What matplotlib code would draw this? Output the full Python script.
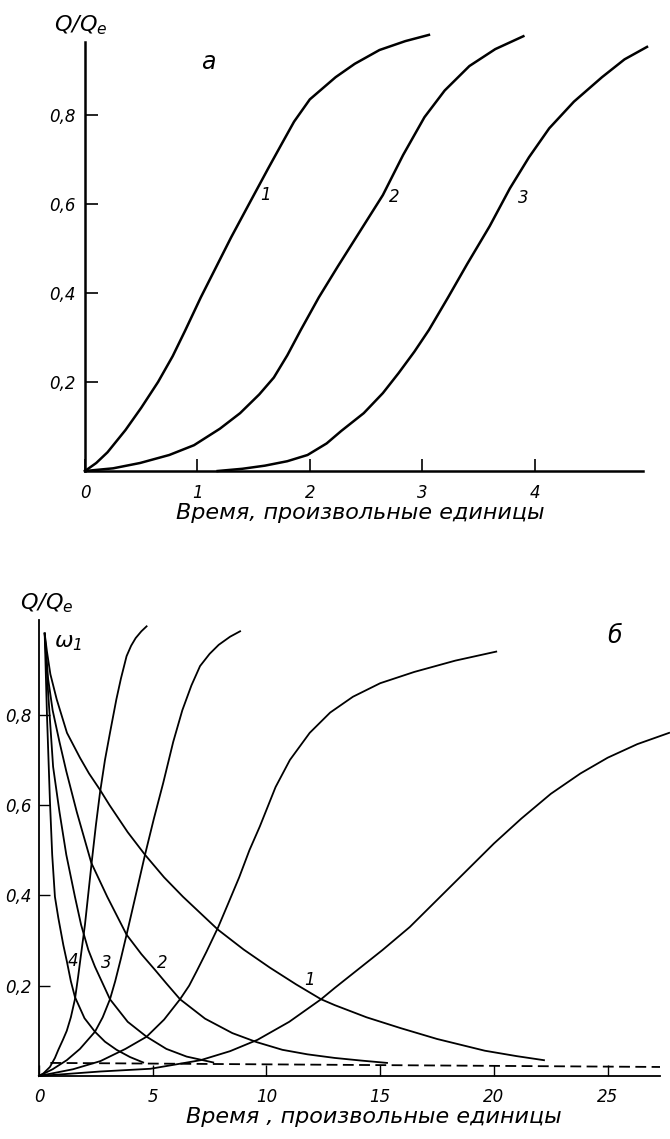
import matplotlib
matplotlib.use("Agg")
import matplotlib.pyplot as plt

plt.rcParams['font.family'] = ['DejaVu Sans']
plt.rcParams['font.style'] = 'italic'
plt.rcParams['mathtext.fontset'] = 'dejavusans'

# panel a: Q/Qe vs time, three curves
a1_t = [0, 0.1, 0.2, 0.36, 0.5, 0.65, 0.78, 0.89, 1.03, 1.15, 1.3, 1.47, 1.63, 1.75, 1.86, 2.0, 2.23, 2.4, 2.62, 2.85, 3.06]
a1_v = [0, 0.018, 0.042, 0.092, 0.142, 0.2, 0.258, 0.315, 0.39, 0.45, 0.525, 0.605, 0.68, 0.735, 0.785, 0.835, 0.885, 0.915, 0.946, 0.966, 0.98]
a2_t = [0, 0.25, 0.49, 0.75, 0.97, 1.2, 1.38, 1.55, 1.68, 1.8, 1.92, 2.08, 2.25, 2.45, 2.65, 2.83, 3.02, 3.2, 3.42, 3.65, 3.9]
a2_v = [0, 0.006, 0.018, 0.036, 0.058, 0.095, 0.13, 0.172, 0.21, 0.26, 0.317, 0.39, 0.46, 0.54, 0.62, 0.71, 0.795, 0.855, 0.91, 0.948, 0.977]
a3_t = [1.18, 1.4, 1.6, 1.8, 1.98, 2.15, 2.28, 2.48, 2.65, 2.79, 2.93, 3.06, 3.23, 3.4, 3.6, 3.78, 3.95, 4.13, 4.35, 4.6, 4.8, 5.0]
a3_v = [0, 0.005, 0.012, 0.022, 0.036, 0.062, 0.09, 0.13, 0.175, 0.22, 0.268, 0.317, 0.39, 0.465, 0.55, 0.635, 0.705, 0.77, 0.83, 0.885, 0.925, 0.953]
a_xticks = [0, 1, 2, 3, 4]
a_yticks = [0.2, 0.4, 0.6, 0.8]

# panel b: rising Q/Qe curves 1-4
r1_t = [0, 2.7, 4.9, 7.1, 8.4, 9.6, 11.0, 12.4, 13.0, 14.0, 15.1, 16.3, 17.5, 18.8, 20.0, 21.2, 22.5, 23.8, 25.0, 26.3, 27.7]
r1_v = [0, 0.01, 0.016, 0.035, 0.055, 0.08, 0.12, 0.17, 0.195, 0.235, 0.279, 0.33, 0.39, 0.455, 0.515, 0.57, 0.625, 0.67, 0.705, 0.735, 0.76]
r2_t = [0, 1.5, 2.7, 3.8, 4.73, 5.5, 6.2, 6.6, 6.93, 7.36, 7.88, 8.3, 8.8, 9.25, 9.71, 10.4, 11.03, 11.9, 12.8, 13.8, 15.0, 16.5, 18.3, 20.1]
r2_v = [0, 0.015, 0.033, 0.06, 0.087, 0.125, 0.17, 0.2, 0.232, 0.275, 0.33, 0.38, 0.44, 0.5, 0.553, 0.64, 0.7, 0.76, 0.805, 0.84, 0.87, 0.895, 0.92, 0.94]
r3_t = [0, 0.6, 1.22, 1.8, 2.46, 2.8, 3.12, 3.35, 3.6, 3.85, 4.25, 4.66, 5.05, 5.46, 5.9, 6.3, 6.7, 7.08, 7.5, 7.9, 8.4, 8.84]
r3_v = [0, 0.015, 0.035, 0.06, 0.098, 0.13, 0.17, 0.21, 0.26, 0.313, 0.4, 0.49, 0.57, 0.649, 0.74, 0.81, 0.865, 0.908, 0.935, 0.955, 0.973, 0.985]
r4_t = [0, 0.2, 0.48, 0.7, 0.85, 1.05, 1.22, 1.4, 1.58, 1.72, 1.85, 2.02, 2.17, 2.32, 2.5, 2.68, 2.9, 3.12, 3.4, 3.6, 3.85, 4.05, 4.25, 4.5, 4.73]
r4_v = [0, 0.006, 0.02, 0.04, 0.058, 0.08, 0.1, 0.13, 0.17, 0.22, 0.27, 0.335, 0.405, 0.475, 0.555, 0.627, 0.7, 0.76, 0.834, 0.88, 0.93, 0.953, 0.97, 0.985, 0.996]

# panel b: decaying omega_1 curves 1-4
d1_t = [0.25, 0.35, 0.5, 0.78, 1.23, 1.8, 2.2, 2.68, 3.1, 3.9, 4.66, 5.5, 6.33, 7.87, 9.0, 10.15, 11.3, 12.4, 13.0, 14.4, 15.9, 17.5, 19.6, 21.0, 22.2]
d1_v = [0.98, 0.94, 0.89, 0.834, 0.76, 0.705, 0.67, 0.634, 0.6, 0.54, 0.49, 0.44, 0.397, 0.324, 0.28, 0.24, 0.203, 0.17, 0.157, 0.13, 0.106, 0.082, 0.056, 0.044, 0.035]
d2_t = [0.25, 0.4, 0.6, 0.9, 1.2, 1.66, 2.3, 3.0, 3.85, 4.5, 5.1, 5.6, 6.2, 7.3, 8.5, 9.57, 10.7, 11.8, 13.0, 14.2, 15.3]
d2_v = [0.98, 0.88, 0.81, 0.74, 0.675, 0.585, 0.472, 0.397, 0.313, 0.27, 0.235, 0.205, 0.17, 0.127, 0.095, 0.075, 0.058, 0.048, 0.04, 0.034, 0.029]
d3_t = [0.25, 0.4, 0.62, 0.9, 1.2, 1.58, 1.85, 2.17, 2.46, 2.8, 3.12, 3.9, 4.73, 5.6, 6.49, 7.66]
d3_v = [0.98, 0.85, 0.685, 0.585, 0.49, 0.397, 0.335, 0.279, 0.242, 0.205, 0.17, 0.12, 0.087, 0.06, 0.043, 0.03]
d4_t = [0.25, 0.35, 0.48, 0.58, 0.7, 0.85, 1.07, 1.22, 1.4, 1.58, 2.0, 2.46, 2.9, 3.41, 4.0, 4.58]
d4_v = [0.98, 0.8, 0.61, 0.49, 0.397, 0.35, 0.29, 0.255, 0.21, 0.175, 0.128, 0.098, 0.076, 0.058, 0.042, 0.03]

dash_t = [0.5, 27.3]
dash_v = [0.029, 0.02]

b_xticks = [0, 5, 10, 15, 20, 25]
b_yticks = [0.2, 0.4, 0.6, 0.8]

fig = plt.figure(figsize=(6.7, 11.39), dpi=100)

def comma(v):
    return ("%g" % v).replace(".", ",")

# ---- panel a ----
ax = fig.add_axes([85/670, (1139-471)/1139, (647-85)/670, (471-42)/1139])
ax.set_xlim(0, 5.0)
ax.set_ylim(0, 0.964)
for t, v in [(a1_t, a1_v), (a2_t, a2_v), (a3_t, a3_v)]:
    ax.plot(t, v, color='black', lw=1.8, clip_on=False, solid_joinstyle='round')
for s in ['top', 'right']:
    ax.spines[s].set_visible(False)
for s in ['left', 'bottom']:
    ax.spines[s].set_linewidth(1.8)
ax.spines['bottom'].set_bounds(0, 4.96)
ax.set_xticks(a_xticks)
ax.set_xticklabels([str(x) for x in a_xticks])
ax.set_yticks(a_yticks)
ax.set_yticklabels([comma(y) for y in a_yticks])
ax.tick_params(axis='both', direction='in', length=9, width=1.2, labelsize=12)
ax.tick_params(axis='x', pad=9)
ax.tick_params(axis='y', pad=7)
ax.set_xlabel("Время, произвольные единицы", fontsize=16, labelpad=5)
ax.xaxis.set_label_coords(0.489, -0.075)
ax.text(1.61, 0.62, "1", fontsize=12, ha='center', va='center')
ax.text(2.75, 0.616, "2", fontsize=12, ha='center', va='center')
ax.text(3.9, 0.613, "3", fontsize=12, ha='center', va='center')
ax.text(1.1, 0.92, "а", fontsize=17, ha='center', va='center')
fig.text(81/670, 1 - 25/1139, r"$Q/Q_e$", fontsize=16, ha='center', va='center')

# ---- panel b ----
bx = fig.add_axes([39/670, (1139-1076)/1139, (660-39)/670, (1076-620)/1139])
bx.set_xlim(0, 27.3)
bx.set_ylim(0, 1.01)
for t, v in [(r1_t, r1_v), (r2_t, r2_v), (r3_t, r3_v), (r4_t, r4_v),
             (d1_t, d1_v), (d2_t, d2_v), (d3_t, d3_v), (d4_t, d4_v)]:
    bx.plot(t, v, color='black', lw=1.3, clip_on=False, solid_joinstyle='round')
bx.plot(dash_t, dash_v, color='black', lw=1.3, ls=(0, (6, 3)))
for s in ['top', 'right']:
    bx.spines[s].set_visible(False)
for s in ['left', 'bottom']:
    bx.spines[s].set_linewidth(1.3)
bx.set_xticks(b_xticks)
bx.set_xticklabels([str(x) for x in b_xticks])
bx.set_yticks(b_yticks)
bx.set_yticklabels([comma(y) for y in b_yticks])
bx.tick_params(axis='both', direction='in', length=8, width=1.0, labelsize=12)
bx.tick_params(axis='x', pad=9)
bx.tick_params(axis='y', pad=5)
bx.set_xlabel("Время , произвольные единицы", fontsize=16)
bx.xaxis.set_label_coords(0.539, -0.067)
bx.text(1.5, 0.255, "4", fontsize=12, ha='center', va='center')
bx.text(2.97, 0.25, "3", fontsize=12, ha='center', va='center')
bx.text(5.4, 0.25, "2", fontsize=12, ha='center', va='center')
bx.text(11.9, 0.213, "1", fontsize=12, ha='center', va='center')
bx.text(25.3, 0.975, "б", fontsize=17, ha='center', va='center')
fig.text(47/670, 1 - 603/1139, r"$Q/Q_e$", fontsize=16, ha='center', va='center')
fig.text(68/670, 1 - 643/1139, r"$\omega_1$", fontsize=16, ha='center', va='center')

fig.savefig("out.png", dpi=100)
